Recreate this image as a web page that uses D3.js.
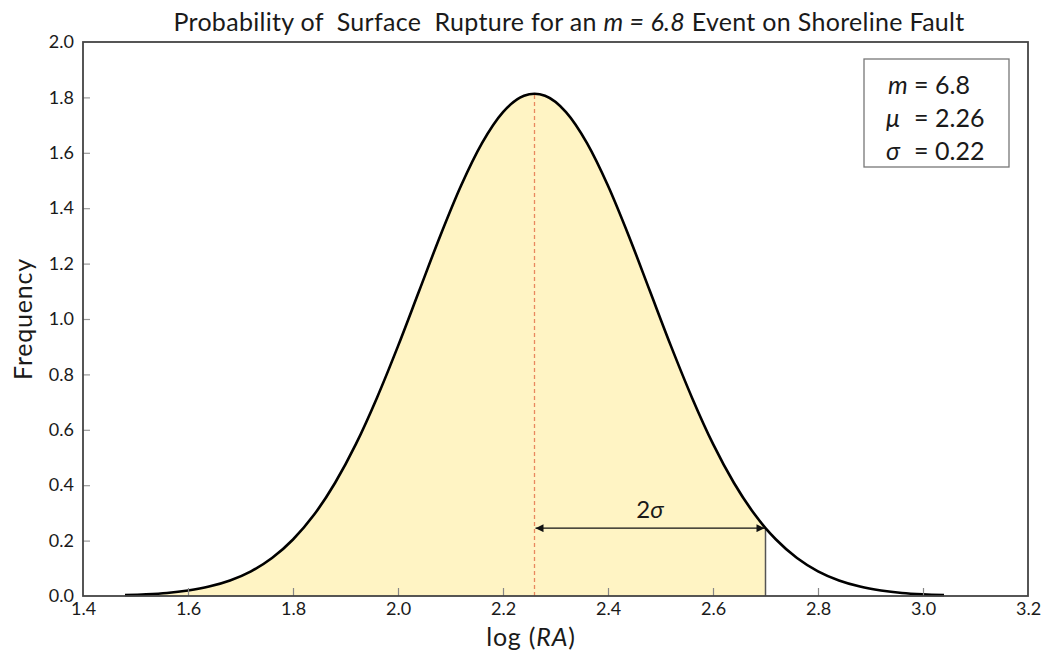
<!DOCTYPE html>
<html>
<head>
<meta charset="utf-8">
<script src="https://cdn.jsdelivr.net/npm/d3@7/dist/d3.min.js"></script>
<style>
  html, body { margin: 0; padding: 0; background: #fff; }
  svg text { font-family: Lato, "Open Sans", "DejaVu Sans", sans-serif; fill: #1a1a1a; white-space: pre; }
</style>
</head>
<body>
<svg id="chart" width="1047" height="656"></svg>
<script>
// Distribution of log(RA) for an m = 6.8 event
const logRA = [1.48, 1.52, 1.56, 1.60, 1.64, 1.68, 1.72, 1.76, 1.80, 1.84, 1.88, 1.92, 1.96,
  2.00, 2.04, 2.08, 2.12, 2.16, 2.20, 2.24, 2.26, 2.28, 2.32, 2.36, 2.40, 2.44, 2.48, 2.52,
  2.56, 2.60, 2.64, 2.68, 2.70, 2.72, 2.76, 2.80, 2.84, 2.88, 2.92, 2.96, 3.00, 3.04];
const frequency = [0.003, 0.006, 0.011, 0.020, 0.034, 0.056, 0.089, 0.137, 0.204, 0.293, 0.408, 0.549, 0.716,
  0.902, 1.100, 1.298, 1.481, 1.635, 1.747, 1.806, 1.813, 1.806, 1.747, 1.635, 1.481, 1.298, 1.100, 0.902,
  0.716, 0.549, 0.408, 0.293, 0.245, 0.204, 0.137, 0.089, 0.056, 0.034, 0.020, 0.011, 0.006, 0.003];

const xTicks = [1.4, 1.6, 1.8, 2.0, 2.2, 2.4, 2.6, 2.8, 3.0, 3.2];
const yTicks = [0.0, 0.2, 0.4, 0.6, 0.8, 1.0, 1.2, 1.4, 1.6, 1.8, 2.0];

const mu = 2.26;
const sigma = 0.22;
const magnitude = 6.8;
const shadeEnd = 2.70;     // mu + 2 sigma
const arrowLevel = 0.245;  // frequency at mu + 2 sigma

const svg = d3.select("#chart");
const margin = { left: 83, right: 19, top: 42, bottom: 60 };
const W = 1047, H = 656;

const x = d3.scaleLinear().domain([1.4, 3.2]).range([margin.left, W - margin.right]);
const y = d3.scaleLinear().domain([0, 2.0]).range([H - margin.bottom, margin.top]);

const pts = logRA.map((v, i) => ({ x: v, y: frequency[i] }));

// Shaded region up to mu + 2 sigma
const area = d3.area()
  .x(d => x(d.x)).y0(y(0)).y1(d => y(d.y))
  .curve(d3.curveMonotoneX);
svg.append("path")
  .datum(pts.filter(d => d.x <= shadeEnd + 1e-9))
  .attr("d", area)
  .attr("fill", "#fff4c4");

// Mean line
svg.append("line")
  .attr("x1", x(mu)).attr("x2", x(mu))
  .attr("y1", y(0)).attr("y2", y(d3.max(frequency)))
  .attr("stroke", "#e8885e").attr("stroke-width", 1.3)
  .attr("stroke-dasharray", "4,3");

// Edge of shaded region
svg.append("line")
  .attr("x1", x(shadeEnd)).attr("x2", x(shadeEnd))
  .attr("y1", y(0)).attr("y2", y(arrowLevel))
  .attr("stroke", "#555").attr("stroke-width", 1.5);

// Density curve
const line = d3.line().x(d => x(d.x)).y(d => y(d.y)).curve(d3.curveMonotoneX);
svg.append("path")
  .datum(pts)
  .attr("d", line)
  .attr("fill", "none")
  .attr("stroke", "#000")
  .attr("stroke-width", 2.6);

// Axes with inward ticks
const xAxis = d3.axisBottom(x).tickValues(xTicks).tickSizeInner(-8).tickSizeOuter(0)
  .tickFormat(d3.format(".1f")).tickPadding(5);
const gx = svg.append("g").attr("transform", `translate(0,${y(0)})`).call(xAxis);
gx.select(".domain").remove();
gx.selectAll(".tick line").attr("stroke", "#888").attr("stroke-width", 1.2);
gx.selectAll(".tick text").attr("font-size", 18).attr("dy", "0.8em").attr("fill", "#1a1a1a");
gx.selectAll(".tick").filter(d => d === 1.4 || d === 3.2).select("line").remove();

const yAxis = d3.axisLeft(y).tickValues(yTicks).tickSizeInner(-7).tickSizeOuter(0)
  .tickFormat(d3.format(".1f")).tickPadding(9);
const gy = svg.append("g").attr("transform", `translate(${x(1.4)},0)`).call(yAxis);
gy.select(".domain").remove();
gy.selectAll(".tick line").attr("stroke", "#999").attr("stroke-width", 1.2);
gy.selectAll(".tick text").attr("font-size", 18).attr("fill", "#1a1a1a");
gy.selectAll(".tick").filter(d => d === 0 || d === 2.0).select("line").remove();

// Frame
svg.append("rect")
  .attr("x", x(1.4)).attr("y", y(2.0))
  .attr("width", x(3.2) - x(1.4)).attr("height", y(0) - y(2.0))
  .attr("fill", "none").attr("stroke", "#444").attr("stroke-width", 1.8);

// Arrow for 2 sigma
const defs = svg.append("defs");
["start", "end"].forEach(k => {
  defs.append("marker")
    .attr("id", "arr-" + k)
    .attr("viewBox", "0 0 10 10")
    .attr("refX", k === "end" ? 10 : 0).attr("refY", 5)
    .attr("markerWidth", 10).attr("markerHeight", 8)
    .attr("markerUnits", "userSpaceOnUse")
    .attr("orient", "auto")
    .append("path")
    .attr("d", k === "end" ? "M0,0 L10,5 L0,10 Z" : "M10,0 L0,5 L10,10 Z")
    .attr("fill", "#111");
});
svg.append("line")
  .attr("x1", x(mu) + 1).attr("x2", x(shadeEnd) - 1)
  .attr("y1", y(arrowLevel)).attr("y2", y(arrowLevel))
  .attr("stroke", "#111").attr("stroke-width", 1.3)
  .attr("marker-start", "url(#arr-start)")
  .attr("marker-end", "url(#arr-end)");
const sigLbl = svg.append("text")
  .attr("x", (x(mu) + x(shadeEnd)) / 2).attr("y", y(arrowLevel) - 10)
  .attr("text-anchor", "middle").attr("font-size", 24);
sigLbl.append("tspan").text("2");
sigLbl.append("tspan").attr("font-style", "italic").text("σ");

// Parameter box
svg.append("rect")
  .attr("x", 864).attr("y", 59).attr("width", 145).attr("height", 108)
  .attr("fill", "#fff").attr("stroke", "#777").attr("stroke-width", 1.3);
const params = [
  { sym: "m", val: magnitude.toFixed(1) },
  { sym: "μ", val: mu.toFixed(2) },
  { sym: "σ", val: sigma.toFixed(2) }
];
params.forEach((p, i) => {
  const yy = 94 + i * 33;
  svg.append("text").attr("x", i === 0 ? 888 : 886).attr("y", yy)
    .attr("font-size", 25).attr("font-style", "italic").text(p.sym);
  svg.append("text").attr("x", 914).attr("y", yy)
    .attr("font-size", 25).text("=");
  svg.append("text").attr("x", 935).attr("y", yy)
    .attr("font-size", 25).text(p.val);
});

// Title
const title = svg.append("text")
  .attr("x", 569).attr("y", 31).attr("text-anchor", "middle")
  .attr("font-size", 25).attr("letter-spacing", 0.3);
title.append("tspan").text("Probability of  Surface  Rupture for an ");
title.append("tspan").attr("font-style", "italic").text("m = " + magnitude.toFixed(1));
title.append("tspan").text(" Event on Shoreline Fault");

// Axis titles
const xl = svg.append("text")
  .attr("x", 531).attr("y", 646)
  .attr("text-anchor", "middle").attr("font-size", 25).attr("letter-spacing", 0.8);
xl.append("tspan").text("log (");
xl.append("tspan").attr("font-style", "italic").text("RA");
xl.append("tspan").text(")");

svg.append("text")
  .attr("transform", `translate(32,${(y(0) + y(2.0)) / 2}) rotate(-90)`)
  .attr("text-anchor", "middle").attr("font-size", 25).attr("letter-spacing", 0.8)
  .text("Frequency");
</script>
</body>
</html>
